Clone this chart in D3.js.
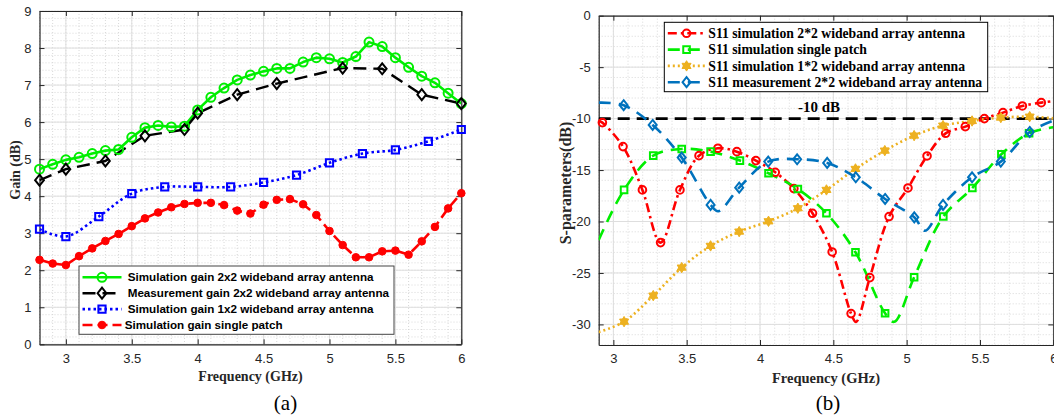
<!DOCTYPE html>
<html><head><meta charset="utf-8">
<script src="https://cdn.jsdelivr.net/npm/d3@7"></script>
<style>
html,body{margin:0;padding:0;background:#fff;}
svg{display:block;}
</style></head>
<body>
<svg id="chart" width="1054" height="416"></svg>
<script>
// ---------------- Panel (a): Gain ----------------
const freqFine = [2.8,2.9,3.0,3.1,3.2,3.3,3.4,3.5,3.6,3.7,3.8,3.9,4.0,4.1,4.2,4.3,4.4,4.5,4.6,4.7,4.8,4.9,5.0,5.1,5.2,5.3,5.4,5.5,5.6,5.7,5.8,5.9,6.0];
const gainSim2x2 = [4.73,4.86,4.98,5.05,5.15,5.23,5.26,5.59,5.85,5.91,5.87,5.89,6.33,6.67,6.92,7.14,7.27,7.37,7.45,7.45,7.62,7.74,7.71,7.61,7.77,8.16,8.04,7.74,7.48,7.24,7.06,6.78,6.5];
const freqMeas2x2 = [2.8,3.0,3.3,3.6,3.9,4.0,4.3,4.6,5.1,5.4,5.7,6.0];
const gainMeas2x2 = [4.43,4.73,4.95,5.63,5.80,6.24,6.74,7.04,7.46,7.44,6.74,6.5];
const freq1x2 = [2.8,3.0,3.25,3.5,3.75,4.0,4.25,4.5,4.75,5.0,5.25,5.5,5.75,6.0];
const gain1x2 = [3.11,2.91,3.45,4.07,4.25,4.25,4.25,4.37,4.57,4.90,5.15,5.25,5.48,5.80];
const gainPatch = [2.28,2.18,2.14,2.38,2.59,2.79,2.98,3.19,3.40,3.56,3.70,3.79,3.82,3.82,3.76,3.61,3.53,3.77,3.90,3.92,3.78,3.49,3.06,2.68,2.35,2.35,2.51,2.53,2.42,2.78,3.17,3.67,4.08];
const gainXTicks = [3,3.5,4,4.5,5,5.5,6];
const gainYTicks = [0,1,2,3,4,5,6,7,8,9];
const gainLegend = ["Simulation gain 2x2 wideband array antenna","Measurement gain 2x2 wideband array antenna","Simulation gain 1x2 wideband array antenna","Simulation gain single patch"];

// ---------------- Panel (b): S-parameters ----------------
const s11Sim2x2Freq = [2.925,3.066,3.198,3.322,3.454,3.584,3.713,3.842,3.972,4.104,4.231,4.358,4.492,4.621,4.749,4.880,5.009,5.139,5.266,5.400,5.530,5.657,5.789,5.918];
const s11Sim2x2 = [-10.39,-12.72,-16.93,-22.05,-16.93,-13.6,-12.88,-13.21,-14.08,-15.22,-16.8,-19.2,-22.96,-28.95,-25.45,-19.52,-16.74,-13.63,-11.43,-10.78,-10.0,-9.42,-8.77,-8.45];
const s11Sim2x2CurveFreq = [2.9,4.655,6.0];
const s11Sim2x2Curve = [-10.2,-29.75,-8.3];

const s11PatchFreq = [3.073,3.272,3.466,3.663,3.863,4.058,4.258,4.453,4.651,4.853,5.051,5.250,5.448,5.646,5.835];
const s11Patch = [-16.93,-13.6,-12.95,-13.21,-14.08,-15.31,-16.84,-19.2,-22.99,-28.92,-25.42,-19.52,-16.74,-13.47,-11.42];
const s11PatchCurveFreq = [2.9,4.915,6.0];
const s11PatchCurve = [-21.8,-29.75,-10.84];

const s11Sim1x2Freq = [3.073,3.272,3.466,3.663,3.858,4.058,4.258,4.453,4.651,4.851,5.051,5.248,5.446,5.642,5.839];
const s11Sim1x2 = [-29.73,-27.2,-24.48,-22.37,-20.98,-19.98,-18.71,-16.93,-14.89,-13.11,-11.65,-10.68,-10.23,-9.9,-9.81];
const s11Sim1x2CurveFreq = [2.9,6.0];
const s11Sim1x2Curve = [-30.75,-9.97];

const s11Meas2x2Freq = [3.07,3.268,3.466,3.663,3.858,4.056,4.253,4.458,4.653,4.853,5.052,5.248,5.446,5.642,5.839];
const s11Meas2x2 = [-8.7,-10.62,-13.79,-18.39,-16.71,-14.18,-13.95,-14.31,-15.7,-17.81,-19.59,-18.39,-15.7,-14.18,-11.3];
const s11Meas2x2CurveFreq = [2.9,3.715,5.125,6.0];
const s11Meas2x2Curve = [-8.45,-19.0,-20.9,-10.2];

const threshold = -10;
const thresholdLabel = "-10 dB";
const sXTicks = [3,3.5,4,4.5,5,5.5,6];
const sYTicks = [0,-5,-10,-15,-20,-25,-30];
const sLegend = ["S11 simulation 2*2 wideband array antenna","S11 simulation single patch","S11 simulation 1*2 wideband array antenna","S11 measurement 2*2 wideband array antenna"];

// ---------------- Drawing ----------------
const svg = d3.select("#chart");
const AX = "#262626";
const SANS = "'Liberation Sans', Arial, Helvetica, sans-serif";
const SERIF = "'Liberation Serif', 'Times New Roman', serif";

function markerPath(type, s) {
  if (type === "diamond") {
    const w = s*0.8, h = s;
    return `M0,${-h}L${w},0L0,${h}L${-w},0Z`;
  }
  if (type === "square") return `M${-s},${-s}H${s}V${s}H${-s}Z`;
  if (type === "hexagram") {
    const pts = a => [0,1,2].map(i => {
      const ang = (a + i*120) * Math.PI/180;
      return [s*Math.cos(ang), s*Math.sin(ang)];
    });
    const t1 = pts(-90), t2 = pts(90);
    const p = t => `M${t[0][0]},${t[0][1]}L${t[1][0]},${t[1][1]}L${t[2][0]},${t[2][1]}Z`;
    return p(t1) + p(t2);
  }
  return d3.symbol(d3.symbolCircle, Math.PI*s*s)();
}

function drawMarker(g, type, s, color, filled, x, y) {
  g.append("path").attr("d", markerPath(type, s))
    .attr("transform", `translate(${x},${y})`)
    .attr("fill", filled ? color : "none")
    .attr("stroke", color).attr("stroke-width", filled ? 1 : 2);
}

function panel(cfg) {
  const g = svg.append("g");
  const x = d3.scaleLinear().domain(cfg.xDomain).range([cfg.left, cfg.right]);
  const y = d3.scaleLinear().domain(cfg.yDomain).range([cfg.bottom, cfg.top]);
  const grid = g.append("g");
  const xr = d3.range(Math.ceil(cfg.xDomain[0]/cfg.xMinor-1e-6), Math.floor(cfg.xDomain[1]/cfg.xMinor+1e-6)+1).map(i => +(i*cfg.xMinor).toFixed(4));
  const yr = d3.range(Math.ceil(cfg.yDomain[0]/cfg.yMinor-1e-6), Math.floor(cfg.yDomain[1]/cfg.yMinor+1e-6)+1).map(i => +(i*cfg.yMinor).toFixed(4));
  xr.forEach(v => grid.append("line").attr("x1", x(v)).attr("x2", x(v)).attr("y1", cfg.top).attr("y2", cfg.bottom)
    .attr("stroke", "#cfcfcf").attr("stroke-width", 0.8).attr("stroke-dasharray", "1,2"));
  yr.forEach(v => grid.append("line").attr("y1", y(v)).attr("y2", y(v)).attr("x1", cfg.left).attr("x2", cfg.right)
    .attr("stroke", "#cfcfcf").attr("stroke-width", 0.8).attr("stroke-dasharray", "1,2"));
  cfg.xTicks.forEach(v => grid.append("line").attr("x1", x(v)).attr("x2", x(v)).attr("y1", cfg.top).attr("y2", cfg.bottom)
    .attr("stroke", "#dedede").attr("stroke-width", 1));
  cfg.yTicks.forEach(v => grid.append("line").attr("y1", y(v)).attr("y2", y(v)).attr("x1", cfg.left).attr("x2", cfg.right)
    .attr("stroke", "#dedede").attr("stroke-width", 1));

  const fmt = d => String(d);
  const bottomAx = g.append("g").attr("transform", `translate(0,${cfg.bottom})`)
    .call(d3.axisBottom(x).tickValues(cfg.xTicks).tickSizeInner(-5).tickSizeOuter(0).tickPadding(9).tickFormat(fmt));
  const topAx = g.append("g").attr("transform", `translate(0,${cfg.top})`)
    .call(d3.axisTop(x).tickValues(cfg.xTicks).tickSizeInner(-5).tickSizeOuter(0).tickFormat(""));
  const leftAx = g.append("g").attr("transform", `translate(${cfg.left},0)`)
    .call(d3.axisLeft(y).tickValues(cfg.yTicks).tickSizeInner(-5).tickSizeOuter(0).tickPadding(8).tickFormat(fmt));
  const rightAx = g.append("g").attr("transform", `translate(${cfg.right},0)`)
    .call(d3.axisRight(y).tickValues(cfg.yTicks).tickSizeInner(-5).tickSizeOuter(0).tickFormat(""));
  [bottomAx, topAx, leftAx, rightAx].forEach(a => {
    a.select(".domain").attr("stroke", AX).attr("stroke-width", 1.2);
    a.selectAll(".tick line").attr("stroke", AX).attr("stroke-width", 1);
    a.selectAll("text").attr("fill", AX).style("font-family", SANS).style("font-size", "13px");
  });
  const clipId = "clip" + cfg.id;
  svg.append("clipPath").attr("id", clipId).append("rect")
    .attr("x", cfg.left).attr("y", cfg.top).attr("width", cfg.right-cfg.left).attr("height", cfg.bottom-cfg.top);
  const plot = g.append("g").attr("clip-path", `url(#${clipId})`);
  const mk = g.append("g");
  return {g, x, y, plot, mk};
}

function series(p, s) {
  const pts = s.xs.map((v,i) => [v, s.ys[i]]);
  const all = pts.concat((s.cx||[]).map((v,i) => [v, s.cy[i]])).sort((a,b) => a[0]-b[0]);
  const line = d3.line().x(d => p.x(d[0])).y(d => p.y(d[1])).curve(s.curve || d3.curveLinear);
  p.plot.append("path").attr("d", line(all)).attr("fill", "none")
    .attr("stroke", s.color).attr("stroke-width", s.width)
    .attr("stroke-dasharray", s.dash || null).attr("stroke-linejoin", "round");
  pts.forEach(d => drawMarker(p.mk, s.marker, s.size, s.color, s.filled, p.x(d[0]), p.y(d[1])));
}

function legend(p, items, box, font) {
  const lg = svg.append("g");
  lg.append("rect").attr("x", box.x).attr("y", box.y).attr("width", box.w).attr("height", box.h)
    .attr("fill", "#fff").attr("stroke", box.stroke).attr("stroke-width", 1);
  items.forEach((it, i) => {
    const cy = box.y + box.first + i*box.step;
    lg.append("line").attr("x1", box.x + box.lx1).attr("x2", box.x + box.lx2).attr("y1", cy).attr("y2", cy)
      .attr("stroke", it.color).attr("stroke-width", it.width).attr("stroke-dasharray", it.dash || null);
    drawMarker(lg, it.marker, it.size, it.color, it.filled, box.x + (box.lx1+box.lx2)/2, cy);
    lg.append("text").attr("x", box.x + box.tx + (it.tdx||0)).attr("y", cy).attr("dy", "0.35em")
      .style("font-family", font.family).style("font-size", font.size).style("font-weight", "bold")
      .attr("fill", "#000").text(it.label);
  });
}

// Panel a
const pa = panel({id:"a", left:39.5, right:461.3, top:11, bottom:344.3,
  xDomain:[2.8,6], yDomain:[0,9], xTicks:gainXTicks, yTicks:gainYTicks, xMinor:0.1, yMinor:0.2});
const GREEN = "#00ee00";
const aSeries = [
  {xs:freqFine, ys:gainSim2x2, color:GREEN, width:2.6, marker:"circle", size:4.5, filled:false, label:gainLegend[0]},
  {xs:freqMeas2x2, ys:gainMeas2x2, color:"#000", width:2.4, dash:"13,7", marker:"diamond", size:5.5, filled:false, label:gainLegend[1]},
  {xs:freq1x2, ys:gain1x2, color:"#0000ff", width:2.6, dash:"2.5,3", marker:"square", size:3.6, filled:false, curve:d3.curveCatmullRom, label:gainLegend[2]},
  {xs:freqFine, ys:gainPatch, color:"#ff0000", width:2.6, dash:"10,5", marker:"circle", size:3.8, filled:true, label:gainLegend[3]},
];
aSeries.forEach(s => series(pa, s));
legend(pa, aSeries.map((s,i) => Object.assign({}, s, {tdx: i===3 ? -3 : 0})),
  {x:79, y:266, w:315, h:68.3, first:11.3, step:15.9, lx1:3.5, lx2:42.5, tx:48.7, stroke:"#444"},
  {family:SANS, size:"11.65px"});
svg.append("text").attr("transform", "translate(15,170) rotate(-90)").attr("text-anchor", "middle").attr("dy", "0.35em")
  .style("font-family", SERIF).style("font-weight", "bold").style("font-size", "14px").attr("fill", "#262626").text("Gain (dB)");
svg.append("text").attr("x", 250.5).attr("y", 376).attr("text-anchor", "middle").attr("dy", "0.35em")
  .style("font-family", SERIF).style("font-weight", "bold").style("font-size", "14px").attr("fill", "#262626").text("Frequency (GHz)");
svg.append("text").attr("x", 285.5).attr("y", 403).attr("text-anchor", "middle").attr("dy", "0.35em")
  .style("font-family", SERIF).style("font-size", "21px").attr("fill", "#000").text("(a)");

// Panel b
const pb = panel({id:"b", left:598.7, right:1053.3, top:15.7, bottom:345,
  xDomain:[2.9,6], yDomain:[-32,0], xTicks:sXTicks, yTicks:sYTicks, xMinor:0.1, yMinor:1});
pb.plot.append("path").attr("d", d3.line()([[pb.x(2.9), pb.y(threshold)], [pb.x(6), pb.y(threshold)]]))
  .attr("stroke", "#000").attr("stroke-width", 2.6).attr("stroke-dasharray", "12,7").attr("fill", "none");
svg.append("text").attr("x", 819).attr("y", pb.y(threshold) - 7).attr("text-anchor", "middle")
  .style("font-family", SERIF).style("font-weight", "bold").style("font-size", "15px").attr("fill", "#000").text(thresholdLabel);
const bSeries = [
  {xs:s11Sim2x2Freq, ys:s11Sim2x2, cx:s11Sim2x2CurveFreq, cy:s11Sim2x2Curve, color:"#ff0000", width:2.6, dash:"9,4,2.5,4", marker:"circle", size:3.8, filled:false, curve:d3.curveCatmullRom, label:sLegend[0]},
  {xs:s11PatchFreq, ys:s11Patch, cx:s11PatchCurveFreq, cy:s11PatchCurve, color:GREEN, width:2.6, dash:"12,8", marker:"square", size:3.3, filled:false, curve:d3.curveCatmullRom, label:sLegend[1]},
  {xs:s11Sim1x2Freq, ys:s11Sim1x2, cx:s11Sim1x2CurveFreq, cy:s11Sim1x2Curve, color:"#EDB120", width:2.6, dash:"2,3", marker:"hexagram", size:5.2, filled:true, curve:d3.curveCatmullRom, label:sLegend[2]},
  {xs:s11Meas2x2Freq, ys:s11Meas2x2, cx:s11Meas2x2CurveFreq, cy:s11Meas2x2Curve, color:"#0072BD", width:2.6, dash:"12,8", marker:"diamond", size:5, filled:false, curve:d3.curveCatmullRom, label:sLegend[3]},
];
bSeries.forEach(s => series(pb, s));
legend(pb, bSeries,
  {x:664.3, y:22.3, w:323.4, h:69.4, first:11, step:16.3, lx1:3.5, lx2:41, tx:44, stroke:"#000"},
  {family:SERIF, size:"13.7px"});
svg.append("text").attr("transform", "translate(565.5,183) rotate(-90)").attr("text-anchor", "middle").attr("dy", "0.35em")
  .style("font-family", SERIF).style("font-weight", "bold").style("font-size", "16px").attr("fill", "#262626").text("S-parameters(dB)");
svg.append("text").attr("x", 826).attr("y", 377.5).attr("text-anchor", "middle").attr("dy", "0.35em")
  .style("font-family", SERIF).style("font-weight", "bold").style("font-size", "14.5px").attr("fill", "#262626").text("Frequency (GHz)");
svg.append("text").attr("x", 828).attr("y", 403).attr("text-anchor", "middle").attr("dy", "0.35em")
  .style("font-family", SERIF).style("font-size", "21px").attr("fill", "#000").text("(b)");
</script>
</body></html>
